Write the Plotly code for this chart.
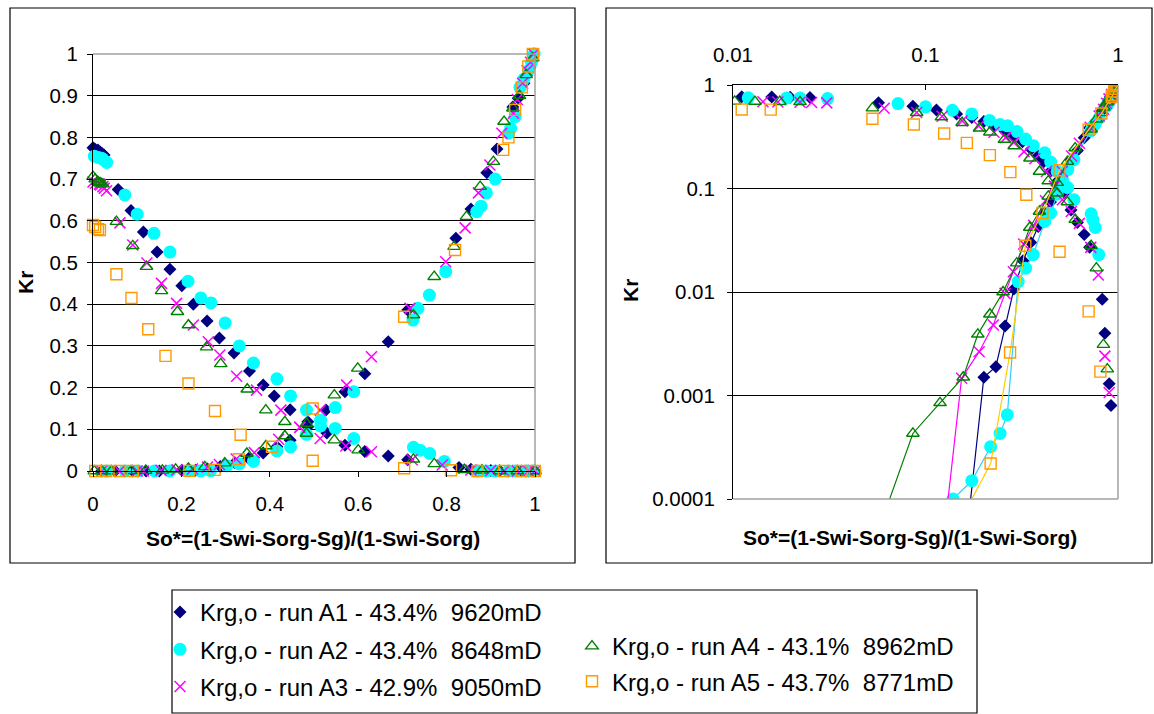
import plotly.graph_objects as go

W, H = 1154, 714

# ---- Run A1 ----
a1_krg_x = [0.0, 0.004, 0.0111, 0.0159, 0.0198, 0.0251, 0.057, 0.086, 0.114, 0.145, 0.174,
            0.201, 0.227, 0.258, 0.286, 0.319, 0.354, 0.385, 0.41, 0.446, 0.486,
            0.529, 0.57, 0.615, 0.668, 0.712, 0.828, 0.855, 0.90, 0.92, 0.95, 0.97, 0.985, 1.0]
a1_krg_y = [0.775, 0.772, 0.77, 0.765, 0.762, 0.758, 0.675, 0.625, 0.573, 0.525, 0.484,
            0.444, 0.40, 0.36, 0.319, 0.283, 0.24, 0.206, 0.18, 0.147, 0.118,
            0.091, 0.062, 0.047, 0.036, 0.027, 0.0085, 0.004, 0.0013, 0.0008, 1e-6, 1e-6, 1e-6, 1e-6]
a1_kro_x = [0.02, 0.05, 0.09, 0.12, 0.15, 0.201, 0.232, 0.259, 0.288, 0.321, 0.352, 0.385, 0.416,
            0.446, 0.486, 0.527, 0.57, 0.615, 0.668, 0.712, 0.821, 0.855, 0.891, 0.914, 0.95,
            0.962, 0.975, 0.987, 0.997]
a1_kro_y = [1e-6, 1e-6, 1e-6, 1e-6, 1e-5, 0.0015, 0.0019, 0.0047, 0.0107, 0.02, 0.03, 0.043, 0.058,
            0.074, 0.106, 0.146, 0.19, 0.233, 0.31, 0.386, 0.558, 0.628, 0.715, 0.772, 0.873,
            0.894, 0.93, 0.965, 1.0]

# ---- Run A2 ----
a2_krg_x = [0.003, 0.012, 0.019, 0.0223, 0.031, 0.072, 0.10, 0.138, 0.174, 0.215, 0.244, 0.267,
            0.299, 0.331, 0.363, 0.416, 0.447, 0.483, 0.515, 0.548, 0.59, 0.725, 0.74, 0.762,
            0.795, 0.87, 0.89, 0.91, 0.94, 0.955, 0.98, 0.995]
a2_krg_y = [0.755, 0.752, 0.75, 0.748, 0.74, 0.662, 0.616, 0.57, 0.525, 0.455, 0.415, 0.403,
            0.355, 0.30, 0.259, 0.221, 0.18, 0.146, 0.122, 0.102, 0.078, 0.057, 0.05, 0.042,
            0.023, 1e-6, 1e-6, 1e-6, 1e-6, 1e-6, 1e-6, 1e-6]
a2_kro_x = [0.031, 0.072, 0.103, 0.139, 0.174, 0.218, 0.244, 0.266, 0.303, 0.331, 0.363, 0.416,
            0.447, 0.483, 0.515, 0.548, 0.59, 0.724, 0.735, 0.761, 0.798, 0.868, 0.878, 0.89,
            0.91, 0.94, 0.945, 0.955, 0.966, 0.975, 0.985, 0.992, 0.998]
a2_kro_y = [1e-6, 1e-6, 1e-6, 0.0001, 0.00015, 0.00032, 0.00043, 0.00065, 0.0126, 0.017, 0.023,
            0.048, 0.058, 0.088, 0.108, 0.152, 0.19, 0.362, 0.39, 0.422, 0.478, 0.622, 0.635,
            0.667, 0.70, 0.81, 0.822, 0.85, 0.92, 0.94, 0.96, 0.98, 1.0]

# ---- Run A3 ----
a3_krg_x = [0.0, 0.006, 0.0143, 0.0171, 0.0223, 0.0256, 0.0307, 0.061, 0.09, 0.122, 0.155, 0.189,
            0.227, 0.261, 0.287, 0.325, 0.37, 0.425, 0.468, 0.514, 0.572, 0.63, 0.722, 0.79,
            0.855, 0.90, 0.93, 0.96, 0.985, 1.0]
a3_krg_y = [0.693, 0.69, 0.688, 0.686, 0.682, 0.678, 0.672, 0.595, 0.542, 0.499, 0.45, 0.402,
            0.35, 0.31, 0.278, 0.227, 0.194, 0.146, 0.105, 0.078, 0.06, 0.046, 0.027, 0.0146,
            0.0024, 0.00107, 1e-6, 1e-6, 1e-6, 1e-6]
a3_kro_x = [0.02, 0.06, 0.1, 0.114, 0.154, 0.19, 0.225, 0.259, 0.286, 0.324, 0.365, 0.42, 0.468,
            0.514, 0.574, 0.63, 0.717, 0.798, 0.842, 0.872, 0.898, 0.925, 0.951, 0.96, 0.972,
            0.982, 0.99, 0.997]
a3_kro_y = [1e-6, 1e-6, 1e-6, 1e-5, 0.00147, 0.00265, 0.0048, 0.0097, 0.0157, 0.029, 0.044, 0.076,
            0.105, 0.146, 0.206, 0.274, 0.39, 0.502, 0.583, 0.667, 0.734, 0.81, 0.858, 0.891,
            0.93, 0.96, 0.98, 1.0]

# ---- Run A4 ----
a4_krg_x = [0.0, 0.005, 0.0102, 0.013, 0.0175, 0.0223, 0.053, 0.09, 0.121, 0.155, 0.191, 0.216,
            0.257, 0.289, 0.349, 0.391, 0.434, 0.483, 0.546, 0.6, 0.725, 0.772, 0.84, 0.88,
            0.92, 0.96, 1.0]
a4_krg_y = [0.706, 0.70, 0.694, 0.692, 0.69, 0.688, 0.598, 0.54, 0.49, 0.432, 0.382, 0.35,
            0.297, 0.257, 0.196, 0.146, 0.118, 0.09, 0.074, 0.05, 0.028, 0.017, 0.0031, 0.0018,
            1e-6, 1e-6, 1e-6]
a4_kro_x = [0.003, 0.02, 0.042, 0.086, 0.119, 0.157, 0.187, 0.216, 0.253, 0.298, 0.348, 0.391,
            0.434, 0.483, 0.546, 0.599, 0.725, 0.772, 0.817, 0.845, 0.876, 0.906, 0.93, 0.95,
            0.965, 0.98, 0.995]
a4_kro_y = [1e-6, 1e-6, 1e-5, 0.00043, 0.00085, 0.0015, 0.0039, 0.0061, 0.01, 0.019, 0.042, 0.06,
            0.084, 0.114, 0.182, 0.246, 0.374, 0.466, 0.538, 0.61, 0.682, 0.742, 0.838, 0.87,
            0.9, 0.95, 0.99]

# ---- Run A5 ----
a5_krg_x = [0.0, 0.005, 0.0111, 0.0157, 0.053, 0.087, 0.125, 0.164, 0.216, 0.276, 0.334, 0.497,
            0.704, 0.81, 0.87, 0.93, 0.97, 1.0]
a5_krg_y = [0.59, 0.585, 0.58, 0.578, 0.472, 0.415, 0.34, 0.276, 0.21, 0.144, 0.087, 0.0245,
            0.0065, 0.0017, 1e-6, 1e-6, 1e-6, 1e-6]
a5_kro_x = [0.005, 0.03, 0.06, 0.09, 0.218, 0.275, 0.33, 0.405, 0.497, 0.704, 0.819, 0.928,
            0.94, 0.955, 0.97, 0.985, 0.995]
a5_kro_y = [1e-6, 1e-6, 1e-6, 1e-5, 0.00022, 0.0026, 0.028, 0.058, 0.15, 0.37, 0.53, 0.77,
            0.80, 0.866, 0.92, 0.97, 1.0]

run_names = [
    "Krg,o - run A1 - 43.4% \u00a09620mD",
    "Krg,o - run A2 - 43.4% \u00a08648mD",
    "Krg,o - run A3 - 42.9% \u00a09050mD",
    "Krg,o - run A4 - 43.1% \u00a08962mD",
    "Krg,o - run A5 - 43.7% \u00a08771mD",
]

lin_ticks = [0, 0.2, 0.4, 0.6, 0.8, 1]
lin_ticktext = ["0", "0.2", "0.4", "0.6", "0.8", "1"]
kr_ticks = [0, 0.1, 0.2, 0.3, 0.4, 0.5, 0.6, 0.7, 0.8, 0.9, 1]
kr_ticktext = ["0", "0.1", "0.2", "0.3", "0.4", "0.5", "0.6", "0.7", "0.8", "0.9", "1"]
log_x_ticks = [0.01, 0.1, 1]
log_x_ticktext = ["0.01", "0.1", "1"]
log_y_ticks = [0.0001, 0.001, 0.01, 0.1, 1]
log_y_ticktext = ["0.0001", "0.001", "0.01", "0.1", "1"]

FONT = "Liberation Sans, Arial, sans-serif"

runs = [
    dict(krg=(a1_krg_x, a1_krg_y), kro=(a1_kro_x, a1_kro_y),
         marker=dict(symbol="diamond", size=10, color="#000080"), line="#000080", legend="legend"),
    dict(krg=(a2_krg_x, a2_krg_y), kro=(a2_kro_x, a2_kro_y),
         marker=dict(symbol="circle", size=13, color="#00FFFF"), line="#33CCFF", legend="legend"),
    dict(krg=(a3_krg_x, a3_krg_y), kro=(a3_kro_x, a3_kro_y),
         marker=dict(symbol="x-thin-open", size=11, color="#FF00FF",
                     line=dict(color="#FF00FF", width=1.5)), line="#FF00FF", legend="legend"),
    dict(krg=(a4_krg_x, a4_krg_y), kro=(a4_kro_x, a4_kro_y),
         marker=dict(symbol="triangle-up-open", size=11, color="#008000",
                     line=dict(color="#008000", width=1.4)), line="#008000", legend="legend2"),
    dict(krg=(a5_krg_x, a5_krg_y), kro=(a5_kro_x, a5_kro_y),
         marker=dict(symbol="square-open", size=11, color="#FF9900",
                     line=dict(color="#FF9900", width=1.4)), line="#FFCC00", legend="legend2"),
]

fig = go.Figure()

# linear panel: gas and oil curves as markers
for i, r in enumerate(runs):
    fig.add_trace(go.Scatter(x=r["krg"][0], y=r["krg"][1], mode="markers", marker=r["marker"],
                             name=run_names[i], legend=r["legend"], legendgroup=f"g{i}",
                             cliponaxis=False, xaxis="x", yaxis="y"))
    fig.add_trace(go.Scatter(x=r["kro"][0], y=r["kro"][1], mode="markers", marker=r["marker"],
                             showlegend=False, legendgroup=f"g{i}",
                             cliponaxis=False, xaxis="x", yaxis="y"))

# log-log panel: gas curve as markers, oil curve with connecting lines
for i, r in enumerate(runs):
    fig.add_trace(go.Scatter(x=r["krg"][0], y=r["krg"][1], mode="markers", marker=r["marker"],
                             showlegend=False, legendgroup=f"g{i}", xaxis="x2", yaxis="y2"))
    fig.add_trace(go.Scatter(x=r["kro"][0], y=r["kro"][1], mode="lines+markers",
                             marker=r["marker"], line=dict(color=r["line"], width=1.2),
                             showlegend=False, legendgroup=f"g{i}", xaxis="x2", yaxis="y2"))


def px_x(p):
    return p / W


def px_y(p):
    return 1 - p / H


tickfont = dict(family=FONT, size=20.5, color="black")
title_font = dict(family=FONT, size=21, color="black")
legend_font = dict(family=FONT, size=24, color="black")
GRAY = "#a0a0a0"

fig.update_layout(
    width=W, height=H, autosize=False,
    margin=dict(l=0, r=0, t=0, b=0, autoexpand=False),
    paper_bgcolor="white", plot_bgcolor="white",
    font=dict(family=FONT, color="black"),
    xaxis=dict(domain=[px_x(93), px_x(535)], range=[0, 1], anchor="y",
               tickmode="array", tickvals=lin_ticks, ticktext=lin_ticktext,
               showgrid=False, zeroline=False, showline=True, linecolor="black", linewidth=1,
               ticks="outside", ticklen=5, tickcolor="black", tickfont=tickfont,
               ticklabelstandoff=9),
    yaxis=dict(domain=[px_y(471), px_y(54)], range=[0, 1], anchor="x",
               tickmode="array", tickvals=kr_ticks, ticktext=kr_ticktext,
               showgrid=True, gridcolor="black", gridwidth=1, zeroline=False,
               showline=True, linecolor="black", linewidth=1,
               ticks="outside", ticklen=5, tickcolor="black", tickfont=tickfont,
               ticklabelstandoff=5),
    xaxis2=dict(type="log", domain=[px_x(733), px_x(1118)], range=[-2, 0], anchor="y2",
                side="top", tickmode="array", tickvals=log_x_ticks, ticktext=log_x_ticktext,
                showgrid=False, zeroline=False, showline=True, linecolor="black", linewidth=1,
                ticks="inside", ticklen=5, tickcolor="black", tickfont=tickfont,
                ticklabelstandoff=14),
    yaxis2=dict(type="log", domain=[px_y(499), px_y(85)], range=[-4, 0], anchor="x2",
                tickmode="array", tickvals=log_y_ticks, ticktext=log_y_ticktext,
                showgrid=True, gridcolor="black", gridwidth=1, zeroline=False,
                showline=True, linecolor="black", linewidth=1,
                ticks="outside", ticklen=5, tickcolor="black", tickfont=tickfont,
                ticklabelstandoff=8),
    legend=dict(xref="paper", yref="paper", x=px_x(160), y=px_y(590),
                xanchor="left", yanchor="top",
                font=legend_font, bgcolor="rgba(0,0,0,0)",
                borderwidth=0, tracegroupgap=3, traceorder="grouped", itemwidth=30),
    legend2=dict(xref="paper", yref="paper", x=px_x(572), y=px_y(624),
                 xanchor="left", yanchor="top",
                 font=legend_font, bgcolor="rgba(0,0,0,0)",
                 borderwidth=0, tracegroupgap=1, traceorder="grouped", itemwidth=30),
    shapes=[
        # chart frames
        dict(type="rect", xref="paper", yref="paper", x0=px_x(10), x1=px_x(575),
             y0=px_y(563), y1=px_y(8), line=dict(color="black", width=1.2)),
        dict(type="rect", xref="paper", yref="paper", x0=px_x(606), x1=px_x(1152),
             y0=px_y(563), y1=px_y(8), line=dict(color="black", width=1.2)),
        dict(type="rect", xref="paper", yref="paper", x0=px_x(172), x1=px_x(977),
             y0=px_y(713), y1=px_y(590), line=dict(color="black", width=1.2)),
        # plot-area borders (top/right on the linear panel, bottom/right on the log panel)
        dict(type="line", xref="x domain", yref="y domain", x0=0, x1=1, y0=1, y1=1,
             line=dict(color=GRAY, width=1.5), layer="above"),
        dict(type="line", xref="x domain", yref="y domain", x0=1, x1=1, y0=0, y1=1,
             line=dict(color=GRAY, width=1.5), layer="above"),
        dict(type="line", xref="x2 domain", yref="y2 domain", x0=0, x1=1, y0=0, y1=0,
             line=dict(color=GRAY, width=1.5), layer="above"),
        dict(type="line", xref="x2 domain", yref="y2 domain", x0=1, x1=1, y0=0, y1=1,
             line=dict(color=GRAY, width=1.5), layer="above"),
    ],
    annotations=[
        dict(text="<b>Kr</b>", xref="paper", yref="paper", x=px_x(26), y=px_y(283),
             xanchor="center", yanchor="middle",
             textangle=-90, showarrow=False, font=title_font),
        dict(text="<b>So*=(1-Swi-Sorg-Sg)/(1-Swi-Sorg)</b>", xref="paper", yref="paper",
             x=px_x(313), y=px_y(538), xanchor="center", yanchor="middle",
             showarrow=False, font=title_font),
        dict(text="<b>Kr</b>", xref="paper", yref="paper", x=px_x(630), y=px_y(290),
             xanchor="center", yanchor="middle",
             textangle=-90, showarrow=False, font=title_font),
        dict(text="<b>So*=(1-Swi-Sorg-Sg)/(1-Swi-Sorg)</b>", xref="paper", yref="paper",
             x=px_x(910), y=px_y(537), xanchor="center", yanchor="middle",
             showarrow=False, font=title_font),
    ],
)

fig.write_html("out.html")
